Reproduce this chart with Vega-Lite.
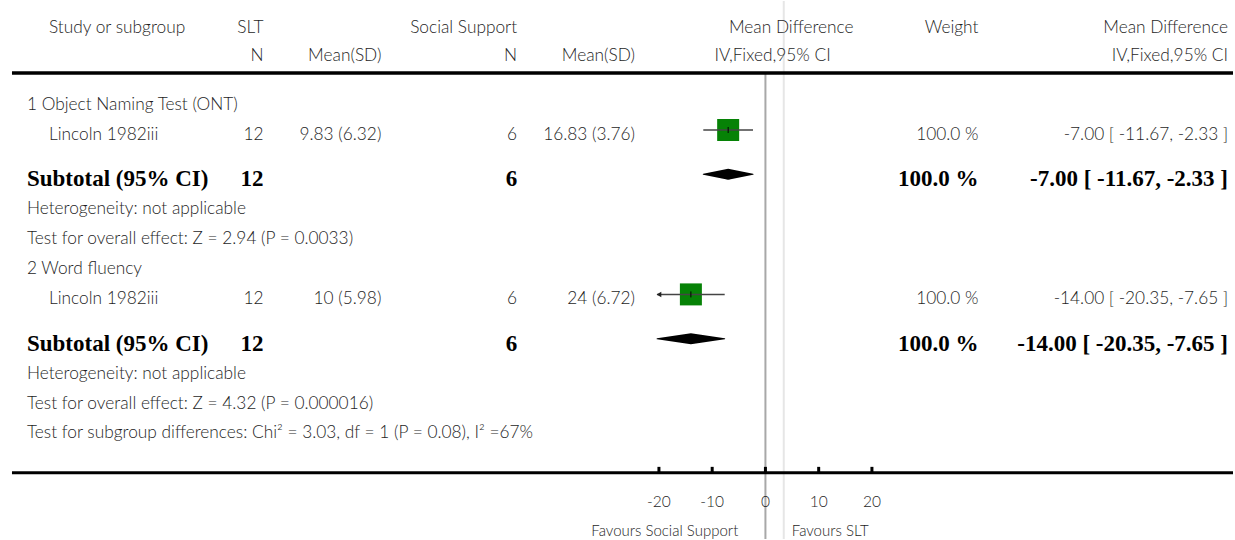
{
  "$schema": "https://vega.github.io/schema/vega-lite/v6.json",
  "width": 1235,
  "height": 540,
  "autosize": {"type": "fit", "contains": "padding"},
  "padding": 0,
  "background": "white",
  "config": {
    "view": {"stroke": null},
    "text": {"font": "Lato", "fontSize": 17.3, "fontWeight": 300, "color": "#1e1e1e", "baseline": "middle"}
  },
  "datasets": {
    "table": [
      {"row": -1.58, "kind": "header", "label": "Study or subgroup", "n1": "SLT", "n2": "Social Support", "weight": "Weight", "ci": "Mean Difference", "plot": "Mean Difference"},
      {"row": -0.63, "kind": "header", "n1": "N", "m1": "Mean(SD)", "n2": "N", "m2": "Mean(SD)", "ci": "IV,Fixed,95% CI", "plot": "IV,Fixed,95% CI"},
      {"row": 1, "kind": "group", "label": "1 Object Naming Test (ONT)"},
      {"row": 2, "kind": "study", "label": "Lincoln 1982iii", "n1": "12", "m1": "9.83 (6.32)", "n2": "6", "m2": "16.83 (3.76)", "weight": "100.0 %", "ci": "-7.00 [ -11.67, -2.33 ]", "md": -7, "lo": -11.67, "hi": -2.33},
      {"row": 3.5, "kind": "subtotal", "label": "Subtotal (95% CI)", "n1": "12", "n2": "6", "weight": "100.0 %", "ci": "-7.00 [ -11.67, -2.33 ]", "md": -7, "lo": -11.67, "hi": -2.33},
      {"row": 4.5, "kind": "note", "label": "Heterogeneity: not applicable"},
      {"row": 5.5, "kind": "note", "label": "Test for overall effect: Z = 2.94 (P = 0.0033)"},
      {"row": 6.5, "kind": "group", "label": "2 Word fluency"},
      {"row": 7.5, "kind": "study", "label": "Lincoln 1982iii", "n1": "12", "m1": "10 (5.98)", "n2": "6", "m2": "24 (6.72)", "weight": "100.0 %", "ci": "-14.00 [ -20.35, -7.65 ]", "md": -14, "lo": -20.35, "hi": -7.65},
      {"row": 9, "kind": "subtotal", "label": "Subtotal (95% CI)", "n1": "12", "n2": "6", "weight": "100.0 %", "ci": "-14.00 [ -20.35, -7.65 ]", "md": -14, "lo": -20.35, "hi": -7.65},
      {"row": 10, "kind": "note", "label": "Heterogeneity: not applicable"},
      {"row": 11, "kind": "note", "label": "Test for overall effect: Z = 4.32 (P = 0.000016)"},
      {"row": 12, "kind": "note", "label": "Test for subgroup differences: Chi² = 3.03, df = 1 (P = 0.08), I² =67%"}
    ],
    "ticks": [{"v": -20, "label": "-20"}, {"v": -10, "label": "-10"}, {"v": 0, "label": "0"}, {"v": 10, "label": "10"}, {"v": 20, "label": "20"}],
    "favours": [{"left": "Favours Social Support", "right": "Favours SLT"}]
  },
  "data": {"name": "table"},
  "layer": [
    {
      "data": {"name": "favours"},
      "mark": {"type": "rule", "color": "#e6e6e6", "strokeWidth": 2},
      "encoding": {
        "x": {"datum": 3.44, "type": "quantitative", "scale": {"domain": [-143.75, 87.81], "nice": false, "zero": false}, "axis": null}
      }
    },
    {
      "data": {"name": "favours"},
      "mark": {"type": "rule", "color": "#a8a8a8", "strokeWidth": 2},
      "encoding": {
        "x": {"datum": 0, "type": "quantitative", "scale": {"domain": [-143.75, 87.81], "nice": false, "zero": false}, "axis": null},
        "y": {"datum": -0.05, "type": "quantitative", "scale": {"domain": [-2.467, 15.533], "reverse": true, "nice": false, "zero": false}, "axis": null},
        "y2": {"datum": 15.533}
      }
    },
    {
      "data": {"name": "favours"},
      "mark": {"type": "rule", "color": "black", "strokeWidth": 3.5},
      "encoding": {
        "x": {"datum": -141.5, "type": "quantitative", "scale": {"domain": [-143.75, 87.81], "nice": false, "zero": false}, "axis": null},
        "x2": {"datum": 87.81},
        "y": {"datum": -0.06, "type": "quantitative", "scale": {"domain": [-2.467, 15.533], "reverse": true, "nice": false, "zero": false}, "axis": null}
      }
    },
    {
      "data": {"name": "favours"},
      "mark": {"type": "rule", "color": "black", "strokeWidth": 3},
      "encoding": {
        "x": {"datum": -141.5, "type": "quantitative", "scale": {"domain": [-143.75, 87.81], "nice": false, "zero": false}, "axis": null},
        "x2": {"datum": 87.81},
        "y": {"datum": 13.32, "type": "quantitative", "scale": {"domain": [-2.467, 15.533], "reverse": true, "nice": false, "zero": false}, "axis": null}
      }
    },
    {
      "data": {"name": "ticks"},
      "mark": {"type": "rule", "color": "black", "strokeWidth": 3, "y2Offset": -6},
      "encoding": {
        "x": {"field": "v", "type": "quantitative", "scale": {"domain": [-143.75, 87.81], "nice": false, "zero": false}, "axis": null},
        "y": {"datum": 13.32, "type": "quantitative", "scale": {"domain": [-2.467, 15.533], "reverse": true, "nice": false, "zero": false}, "axis": null},
        "y2": {"datum": 13.32}
      }
    },
    {
      "data": {"name": "ticks"},
      "mark": {"type": "text", "align": "center", "fontSize": 15.5},
      "encoding": {
        "x": {"field": "v", "type": "quantitative", "scale": {"domain": [-143.75, 87.81], "nice": false, "zero": false}, "axis": null},
        "y": {"datum": 14.3, "type": "quantitative", "scale": {"domain": [-2.467, 15.533], "reverse": true, "nice": false, "zero": false}, "axis": null},
        "text": {"field": "label"}
      }
    },
    {
      "data": {"name": "favours"},
      "mark": {"type": "text", "align": "right", "fontSize": 15},
      "encoding": {
        "x": {"datum": -5.1, "type": "quantitative", "scale": {"domain": [-143.75, 87.81], "nice": false, "zero": false}, "axis": null},
        "y": {"datum": 15.27, "type": "quantitative", "scale": {"domain": [-2.467, 15.533], "reverse": true, "nice": false, "zero": false}, "axis": null},
        "text": {"field": "left"}
      }
    },
    {
      "data": {"name": "favours"},
      "mark": {"type": "text", "align": "left", "fontSize": 15},
      "encoding": {
        "x": {"datum": 4.95, "type": "quantitative", "scale": {"domain": [-143.75, 87.81], "nice": false, "zero": false}, "axis": null},
        "y": {"datum": 15.27, "type": "quantitative", "scale": {"domain": [-2.467, 15.533], "reverse": true, "nice": false, "zero": false}, "axis": null},
        "text": {"field": "right"}
      }
    },
    {
      "transform": [{"filter": "datum.kind == 'study'"}],
      "mark": {"type": "point", "shape": "square", "filled": true, "color": "#068206", "opacity": 1, "size": 484, "yOffset": -4.5},
      "encoding": {
        "x": {"field": "md", "type": "quantitative", "scale": {"domain": [-143.75, 87.81], "nice": false, "zero": false}, "axis": null},
        "y": {"field": "row", "type": "quantitative", "scale": {"domain": [-2.467, 15.533], "reverse": true, "nice": false, "zero": false}, "axis": null}
      }
    },
    {
      "transform": [{"filter": "datum.kind == 'study'"}],
      "mark": {"type": "rule", "color": "#444444", "strokeWidth": 1.5, "yOffset": -4.5},
      "encoding": {
        "x": {"field": "lo", "type": "quantitative", "scale": {"domain": [-143.75, 87.81], "nice": false, "zero": false}, "axis": null},
        "x2": {"field": "hi"},
        "y": {"field": "row", "type": "quantitative", "scale": {"domain": [-2.467, 15.533], "reverse": true, "nice": false, "zero": false}, "axis": null}
      }
    },
    {
      "transform": [{"filter": "datum.kind == 'study'"}],
      "mark": {"type": "rule", "color": "black", "strokeWidth": 1, "yOffset": -7.5, "y2Offset": -1.5},
      "encoding": {
        "x": {"field": "md", "type": "quantitative", "scale": {"domain": [-143.75, 87.81], "nice": false, "zero": false}, "axis": null},
        "y": {"field": "row", "type": "quantitative", "scale": {"domain": [-2.467, 15.533], "reverse": true, "nice": false, "zero": false}, "axis": null},
        "y2": {"field": "row"}
      }
    },
    {
      "transform": [{"filter": "datum.kind == 'study' && datum.lo < -20"}],
      "mark": {"type": "point", "shape": "triangle-left", "filled": true, "color": "#222222", "opacity": 1, "size": 30, "yOffset": -4.5},
      "encoding": {
        "x": {"datum": -20, "type": "quantitative", "scale": {"domain": [-143.75, 87.81], "nice": false, "zero": false}, "axis": null},
        "y": {"field": "row", "type": "quantitative", "scale": {"domain": [-2.467, 15.533], "reverse": true, "nice": false, "zero": false}, "axis": null}
      }
    },
    {
      "transform": [{"filter": "datum.kind == 'subtotal'"}, {"fold": ["lo", "md", "hi"], "as": ["key", "value"]}],
      "mark": {"type": "trail", "color": "black", "yOffset": -5},
      "encoding": {
        "x": {"field": "value", "type": "quantitative", "scale": {"domain": [-143.75, 87.81], "nice": false, "zero": false}, "axis": null},
        "y": {"field": "row", "type": "quantitative", "scale": {"domain": [-2.467, 15.533], "reverse": true, "nice": false, "zero": false}, "axis": null},
        "size": {"field": "key", "type": "nominal", "scale": {"type": "ordinal", "domain": ["lo", "md", "hi"], "range": [0, 11, 0]}, "legend": null},
        "detail": {"field": "row", "type": "nominal"},
        "order": {"field": "value", "type": "quantitative"}
      }
    },
    {
      "transform": [{"filter": "datum.kind == 'study' || datum.kind == 'header'"}, {"filter": "isValid(datum.label)"}],
      "mark": {"type": "text", "align": "left"},
      "encoding": {
        "x": {"datum": -134.56, "type": "quantitative", "scale": {"domain": [-143.75, 87.81], "nice": false, "zero": false}, "axis": null},
        "y": {"field": "row", "type": "quantitative", "scale": {"domain": [-2.467, 15.533], "reverse": true, "nice": false, "zero": false}, "axis": null},
        "text": {"field": "label"}
      }
    },
    {
      "transform": [{"filter": "datum.kind == 'group' || datum.kind == 'note'"}],
      "mark": {"type": "text", "align": "left"},
      "encoding": {
        "x": {"datum": -138.69, "type": "quantitative", "scale": {"domain": [-143.75, 87.81], "nice": false, "zero": false}, "axis": null},
        "y": {"field": "row", "type": "quantitative", "scale": {"domain": [-2.467, 15.533], "reverse": true, "nice": false, "zero": false}, "axis": null},
        "text": {"field": "label"}
      }
    },
    {
      "transform": [{"filter": "datum.kind != 'subtotal' && isValid(datum.n1)"}],
      "mark": {"type": "text", "align": "right"},
      "encoding": {
        "x": {"datum": -94.25, "type": "quantitative", "scale": {"domain": [-143.75, 87.81], "nice": false, "zero": false}, "axis": null},
        "y": {"field": "row", "type": "quantitative", "scale": {"domain": [-2.467, 15.533], "reverse": true, "nice": false, "zero": false}, "axis": null},
        "text": {"field": "n1"}
      }
    },
    {
      "transform": [{"filter": "datum.kind != 'subtotal' && isValid(datum.m1)"}],
      "mark": {"type": "text", "align": "right"},
      "encoding": {
        "x": {"datum": -72.13, "type": "quantitative", "scale": {"domain": [-143.75, 87.81], "nice": false, "zero": false}, "axis": null},
        "y": {"field": "row", "type": "quantitative", "scale": {"domain": [-2.467, 15.533], "reverse": true, "nice": false, "zero": false}, "axis": null},
        "text": {"field": "m1"}
      }
    },
    {
      "transform": [{"filter": "datum.kind != 'subtotal' && isValid(datum.n2)"}],
      "mark": {"type": "text", "align": "right"},
      "encoding": {
        "x": {"datum": -46.63, "type": "quantitative", "scale": {"domain": [-143.75, 87.81], "nice": false, "zero": false}, "axis": null},
        "y": {"field": "row", "type": "quantitative", "scale": {"domain": [-2.467, 15.533], "reverse": true, "nice": false, "zero": false}, "axis": null},
        "text": {"field": "n2"}
      }
    },
    {
      "transform": [{"filter": "datum.kind != 'subtotal' && isValid(datum.m2)"}],
      "mark": {"type": "text", "align": "right"},
      "encoding": {
        "x": {"datum": -24.5, "type": "quantitative", "scale": {"domain": [-143.75, 87.81], "nice": false, "zero": false}, "axis": null},
        "y": {"field": "row", "type": "quantitative", "scale": {"domain": [-2.467, 15.533], "reverse": true, "nice": false, "zero": false}, "axis": null},
        "text": {"field": "m2"}
      }
    },
    {
      "transform": [{"filter": "datum.kind == 'header' && datum.row < -1"}],
      "mark": {"type": "text", "align": "right"},
      "encoding": {
        "x": {"datum": 16.56, "type": "quantitative", "scale": {"domain": [-143.75, 87.81], "nice": false, "zero": false}, "axis": null},
        "y": {"field": "row", "type": "quantitative", "scale": {"domain": [-2.467, 15.533], "reverse": true, "nice": false, "zero": false}, "axis": null},
        "text": {"field": "plot"}
      }
    },
    {
      "transform": [{"filter": "datum.kind == 'header' && datum.row > -1"}],
      "mark": {"type": "text", "align": "right"},
      "encoding": {
        "x": {"datum": 12.25, "type": "quantitative", "scale": {"domain": [-143.75, 87.81], "nice": false, "zero": false}, "axis": null},
        "y": {"field": "row", "type": "quantitative", "scale": {"domain": [-2.467, 15.533], "reverse": true, "nice": false, "zero": false}, "axis": null},
        "text": {"field": "plot"}
      }
    },
    {
      "transform": [{"filter": "datum.kind != 'subtotal' && isValid(datum.weight)"}],
      "mark": {"type": "text", "align": "right"},
      "encoding": {
        "x": {"datum": 40, "type": "quantitative", "scale": {"domain": [-143.75, 87.81], "nice": false, "zero": false}, "axis": null},
        "y": {"field": "row", "type": "quantitative", "scale": {"domain": [-2.467, 15.533], "reverse": true, "nice": false, "zero": false}, "axis": null},
        "text": {"field": "weight"}
      }
    },
    {
      "transform": [{"filter": "datum.kind != 'subtotal' && isValid(datum.ci)"}],
      "mark": {"type": "text", "align": "right"},
      "encoding": {
        "x": {"datum": 86.875, "type": "quantitative", "scale": {"domain": [-143.75, 87.81], "nice": false, "zero": false}, "axis": null},
        "y": {"field": "row", "type": "quantitative", "scale": {"domain": [-2.467, 15.533], "reverse": true, "nice": false, "zero": false}, "axis": null},
        "text": {"field": "ci"}
      }
    },
    {
      "transform": [{"filter": "datum.kind == 'subtotal'"}],
      "mark": {"type": "text", "align": "left", "font": "Liberation Serif", "fontWeight": "bold", "fontSize": 23, "color": "black"},
      "encoding": {
        "x": {"datum": -138.69, "type": "quantitative", "scale": {"domain": [-143.75, 87.81], "nice": false, "zero": false}, "axis": null},
        "y": {"field": "row", "type": "quantitative", "scale": {"domain": [-2.467, 15.533], "reverse": true, "nice": false, "zero": false}, "axis": null},
        "text": {"field": "label"}
      }
    },
    {
      "transform": [{"filter": "datum.kind == 'subtotal'"}],
      "mark": {"type": "text", "align": "right", "font": "Liberation Serif", "fontWeight": "bold", "fontSize": 23, "color": "black"},
      "encoding": {
        "x": {"datum": -94.25, "type": "quantitative", "scale": {"domain": [-143.75, 87.81], "nice": false, "zero": false}, "axis": null},
        "y": {"field": "row", "type": "quantitative", "scale": {"domain": [-2.467, 15.533], "reverse": true, "nice": false, "zero": false}, "axis": null},
        "text": {"field": "n1"}
      }
    },
    {
      "transform": [{"filter": "datum.kind == 'subtotal'"}],
      "mark": {"type": "text", "align": "right", "font": "Liberation Serif", "fontWeight": "bold", "fontSize": 23, "color": "black"},
      "encoding": {
        "x": {"datum": -46.63, "type": "quantitative", "scale": {"domain": [-143.75, 87.81], "nice": false, "zero": false}, "axis": null},
        "y": {"field": "row", "type": "quantitative", "scale": {"domain": [-2.467, 15.533], "reverse": true, "nice": false, "zero": false}, "axis": null},
        "text": {"field": "n2"}
      }
    },
    {
      "transform": [{"filter": "datum.kind == 'subtotal'"}],
      "mark": {"type": "text", "align": "right", "font": "Liberation Serif", "fontWeight": "bold", "fontSize": 23, "color": "black"},
      "encoding": {
        "x": {"datum": 40, "type": "quantitative", "scale": {"domain": [-143.75, 87.81], "nice": false, "zero": false}, "axis": null},
        "y": {"field": "row", "type": "quantitative", "scale": {"domain": [-2.467, 15.533], "reverse": true, "nice": false, "zero": false}, "axis": null},
        "text": {"field": "weight"}
      }
    },
    {
      "transform": [{"filter": "datum.kind == 'subtotal'"}],
      "mark": {"type": "text", "align": "right", "font": "Liberation Serif", "fontWeight": "bold", "fontSize": 23, "color": "black"},
      "encoding": {
        "x": {"datum": 86.875, "type": "quantitative", "scale": {"domain": [-143.75, 87.81], "nice": false, "zero": false}, "axis": null},
        "y": {"field": "row", "type": "quantitative", "scale": {"domain": [-2.467, 15.533], "reverse": true, "nice": false, "zero": false}, "axis": null},
        "text": {"field": "ci"}
      }
    }
  ]
}
